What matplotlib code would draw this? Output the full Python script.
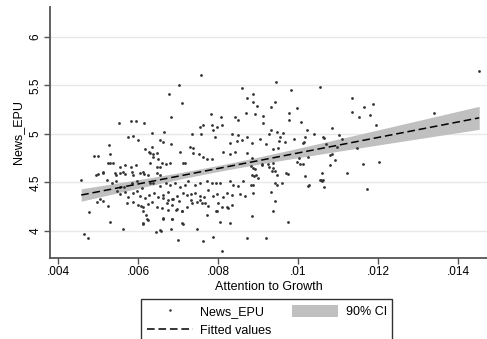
import numpy as np
import matplotlib
matplotlib.use("Agg")
import matplotlib.pyplot as plt
from matplotlib.patches import Patch
from matplotlib.lines import Line2D

plt.rcParams['font.family'] = ['Liberation Sans', 'DejaVu Sans']

# attention to growth (in thousandths) and News_EPU
att_k = [
    7.58, 7.03, 6.78, 7.10, 6.83, 5.53, 5.83, 5.95, 6.15, 5.75, 5.88, 6.00, 6.35, 6.18, 6.30, 6.38,
    6.35, 6.55, 6.63, 6.65, 6.83, 4.90, 5.00, 5.28, 5.30, 5.25, 5.30, 5.38, 5.55, 5.68, 5.83, 5.95,
    6.50, 6.60, 6.70, 6.80, 6.55, 7.05, 7.13, 7.18, 7.30, 7.38, 7.38, 7.53, 7.63, 7.73, 7.85, 7.35,
    7.55, 7.63, 7.58, 7.83, 7.85, 7.88, 7.98, 8.10, 8.08, 7.93, 8.60, 8.73, 8.43, 8.50, 8.70, 8.35,
    8.50, 8.30, 8.48, 8.60, 8.73, 8.30, 8.43, 8.13,
    14.53, 9.45, 9.83, 10.55, 8.88, 8.88, 8.98, 9.33, 9.43, 8.93, 9.13, 9.13, 9.78, 9.78, 9.98, 10.08,
    10.23, 9.48, 9.63, 9.28, 9.33, 10.65, 10.85, 11.35, 11.35, 11.53, 11.65, 11.88, 11.80, 11.95, 13.40, 9.53,
    9.50, 9.38, 8.85, 10.18, 10.15, 10.98, 11.48, 10.85, 10.93, 10.80, 11.63, 12.03, 10.25, 10.03, 10.05, 10.13,
    9.98, 9.38, 9.25, 9.38, 9.10, 8.88, 8.83, 8.73,
    11.23, 11.73, 10.60, 10.58, 10.60, 10.65, 10.25, 10.18, 9.75, 9.48, 9.43, 9.48, 9.33, 9.43, 9.38, 9.75,
    8.85, 8.73, 9.20, 8.88, 8.83, 8.90, 8.95, 9.00,
    4.58, 4.78, 4.65, 4.75, 4.98, 5.05, 5.13, 5.25, 5.30, 5.63, 4.95, 5.00, 5.13, 5.23,
    5.45, 5.55, 5.68, 5.88, 6.05, 6.15, 6.25, 6.48, 6.55,
    5.35, 5.45, 5.55, 5.65, 5.85, 5.98, 6.10, 6.30, 6.38, 6.55, 6.70, 6.80, 6.93, 7.05, 7.18, 7.25,
    7.43, 7.55, 7.73, 7.85, 7.95, 8.05, 8.30, 8.38, 8.50, 8.63,
    5.48, 5.55, 5.68, 5.75, 5.88, 5.98, 6.05, 6.18, 6.28, 6.40, 6.50, 6.63, 6.75, 6.85, 6.98, 7.13,
    7.23, 7.33, 7.43, 7.55, 7.65, 7.75, 7.88, 7.98, 8.13, 8.23, 8.35, 8.55, 8.68,
    5.73, 5.88, 6.00, 6.08, 6.13, 6.25, 6.35, 6.48, 6.60, 6.73, 6.85, 6.98, 7.10, 7.23, 7.35, 7.48,
    7.60, 7.68, 7.75, 7.98, 8.10, 8.23, 8.35,
    6.13, 6.20, 6.25, 6.13, 6.63, 6.85, 7.10, 7.73, 8.05, 8.30,
    6.58, 6.45, 6.83, 7.00, 7.48, 7.63, 7.88, 8.10,
    5.63, 5.43, 5.13, 5.85, 6.13, 6.30, 6.48, 6.28, 6.48, 6.38,
    10.13, 10.80, 10.55, 10.63, 8.85, 8.93, 8.85, 8.88, 9.10, 9.28, 9.35, 9.70, 9.43, 9.60, 10.28, 11.03,
    10.63,
    6.63, 6.75, 6.88, 7.03, 7.33, 7.55, 8.00, 6.75, 6.95, 7.10, 7.95, 8.25, 6.63, 6.85, 7.13, 6.55,
    6.13, 6.23,
    9.05, 9.20, 9.55, 9.68, 9.90, 10.40, 10.70, 11.10,
]
news_epu = [
    5.61, 5.51, 5.41, 5.32, 5.18, 5.11, 5.13, 5.13, 5.11, 4.97, 4.98, 4.94, 5.01, 4.84, 4.80, 4.79,
    4.87, 4.94, 4.92, 5.02, 4.90, 4.77, 4.77, 4.89, 4.79, 4.70, 4.70, 4.70, 4.66, 4.68, 4.66, 4.68,
    4.74, 4.70, 4.69, 4.70, 4.66, 4.81, 4.70, 4.70, 4.87, 4.86, 4.80, 4.79, 4.76, 4.74, 4.74, 5.00,
    5.07, 5.09, 5.00, 5.21, 5.09, 5.04, 5.07, 5.09, 5.17, 4.97, 5.47, 5.37, 5.18, 5.14, 5.22, 5.00,
    4.99, 4.91, 4.93, 4.94, 4.97, 4.79, 4.81, 4.81,
    5.65, 5.54, 5.45, 5.48, 5.41, 5.33, 5.29, 5.28, 5.33, 5.21, 5.19, 5.11, 5.22, 5.14, 5.27, 5.12,
    5.04, 5.02, 5.01, 5.00, 5.04, 4.96, 5.06, 5.37, 5.23, 5.18, 5.28, 5.31, 5.20, 5.09, 5.22, 4.93,
    4.86, 4.84, 4.91, 4.97, 4.92, 4.87, 4.85, 4.79, 4.73, 4.68, 4.69, 4.71, 4.76, 4.75, 4.69, 4.69,
    4.71, 4.70, 4.69, 4.65, 4.69, 4.65, 4.67, 4.80,
    4.60, 4.43, 4.60, 4.52, 4.51, 4.45, 4.46, 4.57, 4.59, 4.58, 4.62, 4.47, 4.40, 4.31, 4.20, 4.09,
    4.15, 3.93, 3.93, 4.39, 4.47, 4.57, 4.58, 4.55,
    4.52, 4.19, 3.97, 3.93, 4.30, 4.33, 4.31, 4.26, 4.09, 4.02, 4.58, 4.59, 4.60, 4.53,
    4.58, 4.60, 4.59, 4.58, 4.60, 4.59, 4.58, 4.60, 4.58,
    4.49, 4.51, 4.45, 4.45, 4.49, 4.51, 4.44, 4.49, 4.49, 4.46, 4.49, 4.47, 4.49, 4.45, 4.47, 4.51,
    4.47, 4.49, 4.51, 4.49, 4.49, 4.49, 4.51, 4.47, 4.46, 4.51,
    4.41, 4.38, 4.40, 4.35, 4.39, 4.41, 4.36, 4.34, 4.37, 4.39, 4.35, 4.37, 4.40, 4.33, 4.36, 4.39,
    4.37, 4.38, 4.39, 4.36, 4.35, 4.42, 4.36, 4.38, 4.35, 4.39, 4.37, 4.38, 4.36,
    4.29, 4.30, 4.27, 4.26, 4.25, 4.28, 4.30, 4.25, 4.24, 4.29, 4.27, 4.23, 4.21, 4.25, 4.29, 4.30,
    4.29, 4.29, 4.26, 4.20, 4.25, 4.25, 4.27,
    4.20, 4.16, 4.11, 4.08, 4.13, 4.12, 4.08, 4.16, 4.09, 4.08,
    4.00, 3.99, 4.02, 3.91, 4.02, 3.90, 3.94, 3.79,
    4.61, 4.60, 4.61, 4.61, 4.61, 4.70, 4.66, 4.81, 4.80, 4.76,
    4.91, 4.78, 4.52, 4.52, 4.75, 4.64, 4.58, 4.47, 4.68, 4.66, 4.62, 4.60, 4.49, 4.49, 4.47, 4.99,
    4.97,
    4.34, 4.32, 4.33, 4.31, 4.32, 4.32, 4.29, 4.22, 4.22, 4.20, 4.20, 4.24, 4.12, 4.12, 4.07, 4.01,
    4.07, 4.12,
    4.95, 4.90, 4.97, 4.92, 4.95, 5.00, 4.90, 4.95,
]

x_ticks = [0.004, 0.006, 0.008, 0.010, 0.012, 0.014]
x_tick_labels = ['.004', '.006', '.008', '.01', '.012', '.014']
y_ticks = [4, 4.5, 5, 5.5, 6]
y_tick_labels = ['4', '4.5', '5', '5.5', '6']
t_crit = 1.649  # 90% two-sided, large n

x = np.array(att_k) / 1000.0
y = np.array(news_epu)

# linear fit with 90% CI of the mean prediction
n = len(x)
b, a = np.polyfit(x, y, 1)
resid = y - (a + b * x)
s = np.sqrt(np.sum(resid ** 2) / (n - 2))
sxx = np.sum((x - x.mean()) ** 2)
xf = np.linspace(x.min(), x.max(), 200)
yf = a + b * xf
se = s * np.sqrt(1.0 / n + (xf - x.mean()) ** 2 / sxx)

fig = plt.figure(figsize=(4.87, 3.39), dpi=100)
ax = fig.add_axes([50 / 487, 81 / 339, 437 / 487, 251 / 339])

ax.fill_between(xf, yf - t_crit * se, yf + t_crit * se, color='#c0c0c0', lw=0, zorder=2)
ax.scatter(x, y, s=4, color='#333333', lw=0, zorder=3)
ax.plot(xf, yf, color='black', lw=1.1, ls=(0, (5, 2.5)), zorder=4)

ax.set_xlim(0.0038, 0.014725)
ax.set_ylim(3.72, 6.31)
ax.set_xticks(x_ticks)
ax.set_xticklabels(x_tick_labels)
ax.set_yticks(y_ticks)
ax.set_yticklabels(y_tick_labels, rotation=90, va='center')
ax.tick_params(labelsize=8.5, length=4, width=1, color='#555555', pad=2)
ax.yaxis.grid(True, color='#e8e8e8', lw=1)
ax.set_axisbelow(True)
for side in ['top', 'right']:
    ax.spines[side].set_visible(False)
for side in ['left', 'bottom']:
    ax.spines[side].set_color('#555555')
    ax.spines[side].set_linewidth(1.3)
ax.set_xlabel('Attention to Growth', fontsize=9, labelpad=2)
ax.set_ylabel('News_EPU', fontsize=9, labelpad=4)

handles = [
    Line2D([], [], ls='none', marker='o', ms=1.8, color='#333333', mew=0),
    Line2D([], [], color='black', lw=1.1, ls=(0, (5, 2.5))),
    Patch(facecolor='#c0c0c0', edgecolor='none'),
]
labels = ['News_EPU', 'Fitted values', '90% CI']
leg = fig.legend(handles, labels, ncol=2, loc='upper left',
                 bbox_to_anchor=(141 / 487, 1 - 299 / 339), fontsize=9,
                 frameon=True, fancybox=False, edgecolor='black',
                 handlelength=3.7, handleheight=1.1, handletextpad=0.6,
                 columnspacing=1.6, labelspacing=0.45, borderpad=0.45,
                 borderaxespad=0)
leg.get_frame().set_linewidth(1.0)

fig.savefig('out.png', dpi=100)
